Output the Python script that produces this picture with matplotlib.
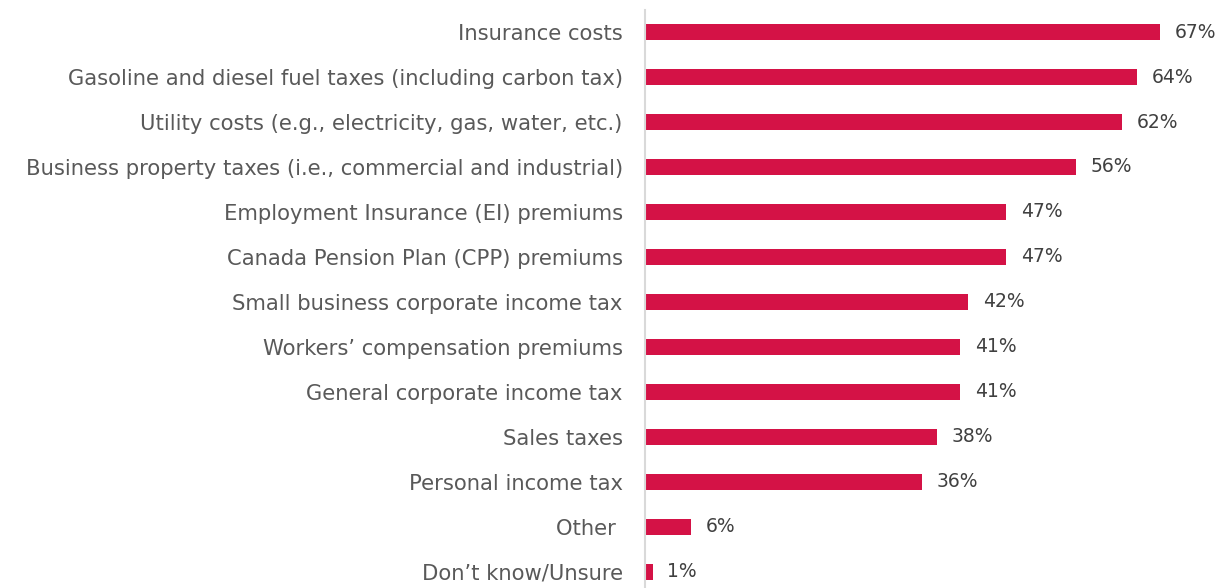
import matplotlib.pyplot as plt

categories = [
    "Insurance costs",
    "Gasoline and diesel fuel taxes (including carbon tax)",
    "Utility costs (e.g., electricity, gas, water, etc.)",
    "Business property taxes (i.e., commercial and industrial)",
    "Employment Insurance (EI) premiums",
    "Canada Pension Plan (CPP) premiums",
    "Small business corporate income tax",
    "Workers\u2019 compensation premiums",
    "General corporate income tax",
    "Sales taxes",
    "Personal income tax",
    "Other ",
    "Don\u2019t know/Unsure",
]
shares = [67, 64, 62, 56, 47, 47, 42, 41, 41, 38, 36, 6, 1]

BAR = "#D41246"
LABEL = "#595959"
VALUE = "#404040"

plt.rcParams["font.family"] = ["DejaVu Sans"]

fig = plt.figure(figsize=(12.18, 5.88), dpi=100)
ax = fig.add_axes([645 / 1218, 0.0, 1 - 645 / 1218, 1 - 10 / 588])

ypos = list(range(len(categories)))
ax.barh(ypos, shares, height=0.36, color=BAR)
for y, v in zip(ypos, shares):
    ax.annotate(f"{v}%", (v, y), xytext=(10.5, 0), textcoords="offset points",
                va="center", ha="left", fontsize=13.5, color=VALUE)

ax.set_yticks(ypos, categories)
ax.set_ylim(len(categories) - 1 + 0.36, -0.49)
ax.set_xlim(0, 74.5)
ax.set_xticks([])
ax.tick_params(axis="y", length=0, pad=16, labelsize=15.2, labelcolor=LABEL)
for side in ("top", "right", "bottom"):
    ax.spines[side].set_visible(False)
ax.spines["left"].set_color("#D9D9D9")
ax.spines["left"].set_linewidth(1.5)

fig.savefig("out.png", dpi=100)
